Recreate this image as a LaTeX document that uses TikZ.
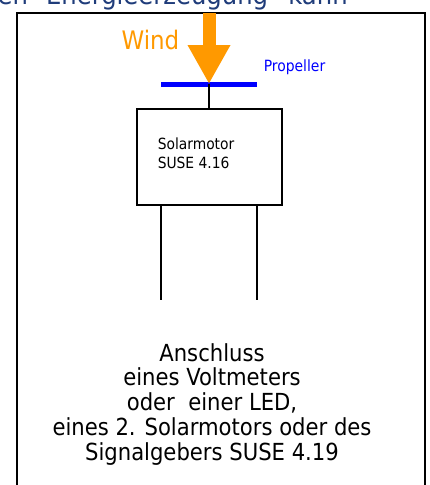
\documentclass[tikz,border=0pt]{standalone}
\usepackage{fontspec}
\setmainfont{DejaVu Sans Condensed}
\usetikzlibrary{arrows.meta, positioning, calc}
\definecolor{cnavy}{HTML}{1F3C7A}
\definecolor{corange}{HTML}{FF9900}
\definecolor{cblue}{HTML}{0000FF}
\tikzset{
  every picture/.style={x=1pt, y=-1pt, line width=1.5pt},
  frame/.style={draw=black, line width=2pt},
  motorbox/.style={draw=black, line width=2pt, minimum width=145pt, minimum height=96pt, inner sep=0pt},
  wire/.style={draw=black, line width=1.6pt},
  windarrow/.style={-{Triangle[length=39pt, width=40pt]}, draw=corange, line width=13pt},
  blade/.style={draw=cblue, line width=5pt},
  note/.style={font=\fontsize{23.5}{24.7}\selectfont, align=center, inner sep=0pt},
}

\begin{document}
\begin{tikzpicture}
  \clip (0,0) rectangle (430,485);
  % heading, cut off at the top
  \node[anchor=base west, inner sep=0pt, text=cnavy, font=\fontsize{27}{30}\selectfont] (head) at (-3,4.5) {en\hspace{18pt}Energieerzeugung“ kann};
  \draw[frame] (17,13) rectangle (425,500);
  % wind and propeller
  \coordinate (hub) at (209,84);
  \coordinate (windtop) at (209,13);
  \draw[blade] (161,84) -- (257,84);
  \draw[windarrow] (windtop) -- (hub);
  \node[anchor=base east, inner sep=0pt, text=corange, font=\fontsize{25.5}{28}\selectfont] (wind) at (180,49.3) {Wind};
  \node[anchor=base west, inner sep=0pt, text=cblue, font=\fontsize{15.5}{18}\selectfont] (prop) at (263,71.7) {Propeller};
  % motor
  \node[motorbox] (mot) at (209.5,157) {};
  \node[anchor=base west, inner sep=0pt, align=left, font=\fontsize{15.4}{19}\selectfont] (motlbl) at (157,168) {Solarmotor\\SUSE 4.16};
  \draw[wire] (hub) -- (mot.north -| hub);
  \coordinate (legA) at (161,300);
  \coordinate (legB) at (257,300);
  \draw[wire] (mot.south -| legA) -- (legA);
  \draw[wire] (mot.south -| legB) -- (legB);
  % what can be connected
  \node[note, anchor=base] (conn) at (212,460) {Anschluss\\eines Voltmeters\\oder\ \ einer LED,\\eines 2. Solarmotors oder des\\Signalgebers SUSE 4.19};
\end{tikzpicture}
\end{document}
